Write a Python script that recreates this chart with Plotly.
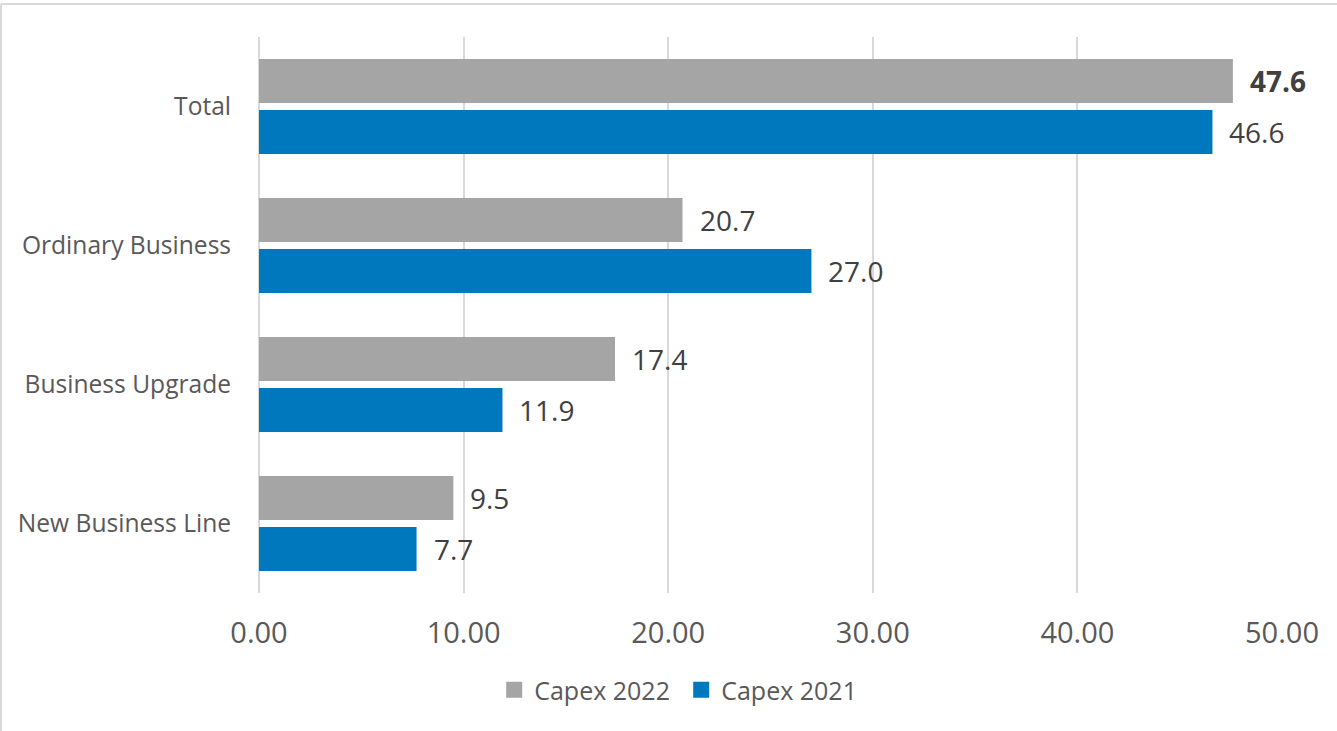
import plotly.graph_objects as go

categories = ["Total", "Ordinary Business", "Business Upgrade", "New Business Line"]
capex_2022 = [47.6, 20.7, 17.4, 9.5]
capex_2021 = [46.6, 27.0, 11.9, 7.7]
series_names = ["Capex 2022", "Capex 2021"]
x_ticks = [0, 10, 20, 30, 40, 50]

GRAY = "#A5A5A5"
BLUE = "#0078BE"
FONT = "Open Sans"

W, H = 1337, 731
ML, MR, MT, MB = 259, 55, 37, 138

fig = go.Figure()
fig.add_trace(go.Bar(y=categories, x=capex_2022, name=series_names[0], orientation="h",
                     marker=dict(color=GRAY, line=dict(width=0)), hoverinfo="x", showlegend=False))
fig.add_trace(go.Bar(y=categories, x=capex_2021, name=series_names[1], orientation="h",
                     marker=dict(color=BLUE, line=dict(width=0)), hoverinfo="x", showlegend=False))
# legend entries with larger square swatches
for name, col in zip(series_names, (GRAY, BLUE)):
    fig.add_trace(go.Scatter(x=[None], y=[None], mode="markers", name=name,
                             marker=dict(symbol="square", size=16, color=col), showlegend=True))

annotations = []
for i, c in enumerate(categories):
    for vals, shift, is_first in ((capex_2022, 25.5, True), (capex_2021, -25.5, False)):
        v = vals[i]
        txt = f"{v:.1f}"
        if c == "Total" and is_first:
            txt = f"<b>{txt}</b>"
        annotations.append(dict(x=v, y=c, xref="x", yref="y", text=txt, showarrow=False,
                                xanchor="left", yanchor="middle", xshift=15, yshift=shift,
                                font=dict(family=FONT, size=28, color="#404040")))

pw = W - ML - MR
ph = H - MT - MB
left_px, top_px = 1, 4
bx = (left_px - ML) / pw
by = 1 + (MT - top_px) / ph

fig.update_layout(
    width=W, height=H,
    margin=dict(l=ML, r=MR, t=MT, b=MB),
    paper_bgcolor="white", plot_bgcolor="white",
    barmode="group", bargap=0.266, bargroupgap=0.137,
    font=dict(family=FONT, color="#595959"),
    xaxis=dict(range=[0, 50], tickvals=x_ticks, ticktext=[f"{t:.2f}" for t in x_ticks],
               showgrid=True, gridcolor="#D9D9D9", gridwidth=2,
               zeroline=True, zerolinecolor="#D9D9D9", zerolinewidth=2,
               showline=False, ticks="outside", ticklen=14, tickcolor="rgba(0,0,0,0)",
               tickfont=dict(family=FONT, size=29, color="#595959"), fixedrange=True),
    yaxis=dict(autorange="reversed", showgrid=False, zeroline=False, showline=False,
               ticks="outside", ticklen=22, tickcolor="rgba(0,0,0,0)",
               tickfont=dict(family=FONT, size=24.6, color="#595959"), fixedrange=True),
    showlegend=True,
    legend=dict(orientation="h", xref="container", yref="container", x=0.5095, y=0.056,
                xanchor="center", yanchor="middle", font=dict(family=FONT, size=25, color="#595959"),
                traceorder="normal", itemwidth=30, entrywidth=142, entrywidthmode="pixels"),
    annotations=annotations,
    shapes=[
        dict(type="line", xref="paper", yref="paper", x0=bx, x1=2, y0=by, y1=by,
             line=dict(color="#D9D9D9", width=2)),
        dict(type="line", xref="paper", yref="paper", x0=bx, x1=bx, y0=by, y1=-2,
             line=dict(color="#D9D9D9", width=2)),
    ],
)

fig.write_html("out.html")
